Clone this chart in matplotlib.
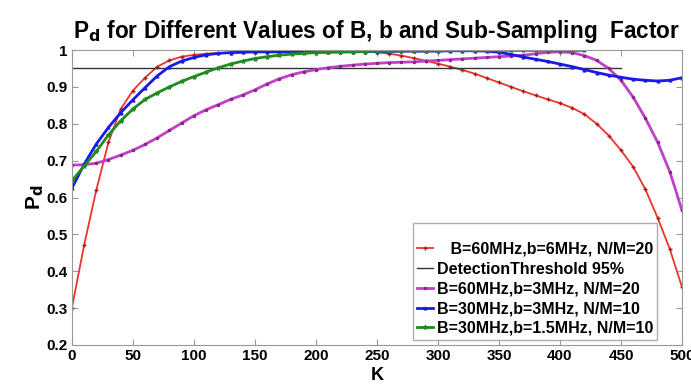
import numpy as np
import matplotlib
matplotlib.use("Agg")
import matplotlib.pyplot as plt

plt.rcParams['font.family'] = ['Liberation Sans', 'DejaVu Sans']
plt.rcParams['font.weight'] = 'bold'

# sampling grid of K (every 10)
K = np.arange(0, 501, 10)

pd_60_6 = [0.300, 0.470, 0.620, 0.750, 0.840, 0.890, 0.925, 0.955, 0.972, 0.982,
           0.987, 0.990, 0.992, 0.993, 0.994, 0.995, 0.996, 0.996, 0.997, 0.997,
           0.997, 0.997, 0.997, 0.997, 0.996, 0.994, 0.990, 0.985, 0.978, 0.971,
           0.963, 0.955, 0.946, 0.936, 0.924, 0.912, 0.900, 0.888, 0.877, 0.866,
           0.856, 0.843, 0.826, 0.800, 0.768, 0.728, 0.683, 0.622, 0.545, 0.460,
           0.357]

pd_60_3 = [0.688, 0.689, 0.693, 0.703, 0.715, 0.728, 0.744, 0.762, 0.782, 0.802,
           0.822, 0.838, 0.852, 0.866, 0.878, 0.892, 0.908, 0.922, 0.933, 0.941,
           0.947, 0.952, 0.956, 0.959, 0.962, 0.964, 0.966, 0.967, 0.968, 0.970,
           0.972, 0.974, 0.976, 0.978, 0.980, 0.982, 0.984, 0.986, 0.990, 0.994,
           0.995, 0.993, 0.985, 0.972, 0.950, 0.918, 0.872, 0.815, 0.750, 0.670,
           0.565]

pd_30_3 = [0.625, 0.690, 0.745, 0.790, 0.830, 0.865, 0.898, 0.930, 0.955, 0.970,
           0.980, 0.987, 0.991, 0.993, 0.994, 0.995, 0.995, 0.995, 0.995, 0.995,
           0.995, 0.995, 0.995, 0.995, 0.996, 0.996, 0.996, 0.997, 0.997, 0.997,
           0.997, 0.998, 0.998, 0.998, 0.997, 0.994, 0.988, 0.981, 0.975, 0.969,
           0.962, 0.955, 0.947, 0.939, 0.932, 0.926, 0.921, 0.918, 0.916, 0.918,
           0.925]

# this one stops at K=420
pd_30_15 = [0.645, 0.685, 0.725, 0.770, 0.808, 0.840, 0.866, 0.884, 0.900, 0.915,
            0.928, 0.940, 0.952, 0.962, 0.970, 0.977, 0.982, 0.986, 0.989, 0.991,
            0.993, 0.994, 0.995, 0.996, 0.996, 0.997, 0.997, 0.998, 0.998, 0.998,
            0.998, 0.999, 0.999, 0.999, 0.999, 0.999, 0.999, 0.999, 0.999, 0.999,
            0.999, 0.999, 0.999]

thr_K = [0, 450]
thr_val = [0.95, 0.95]

fig = plt.figure(figsize=(6.91, 3.85), dpi=100)
ax = fig.add_axes([0.104, 0.104, 0.883, 0.766])

ax.plot(K, pd_60_6, color='#e8362c', linewidth=1.3, marker='+', markersize=3,
        markeredgecolor='#b01818', label='   B=60MHz,b=6MHz, N/M=20')
ax.plot(thr_K, thr_val, color='#333333', linewidth=1.0, label='DetectionThreshold 95%')
ax.plot(K, pd_60_3, color='#c040c8', linewidth=2.0, marker='.', markersize=3,
        markeredgecolor='#8a208a', label='B=60MHz,b=3MHz, N/M=20')
ax.plot(K, pd_30_3, color='#1a1ae6', linewidth=2.0, marker='^', markersize=2,
        label='B=30MHz,b=3MHz, N/M=10')
ax.plot(K[:len(pd_30_15)], pd_30_15, color='#1e8c1e', linewidth=2.0, marker='*',
        markersize=3, label='B=30MHz,b=1.5MHz, N/M=10')

ax.set_xlim(0, 500)
ax.set_ylim(0.2, 1.0)
ax.set_xticks(np.arange(0, 501, 50))
ax.set_yticks([0.2, 0.3, 0.4, 0.5, 0.6, 0.7, 0.8, 0.9, 1.0])
ax.set_yticklabels(['0.2', '0.3', '0.4', '0.5', '0.6', '0.7', '0.8', '0.9', '1'])
ax.tick_params(direction='in', top=True, right=True, length=4, color='#999999',
               labelsize=11, pad=3)
for s in ax.spines.values():
    s.set_color('#999999')

ax.set_title('P$_\\mathbf{d}$ for Different Values of B, b and Sub-Sampling  Factor',
             fontsize=16.3, fontweight='bold', pad=9)
ax.set_xlabel('K', fontsize=13, fontweight='bold', labelpad=3)
ax.set_ylabel('P$_\\mathbf{d}$', fontsize=15, fontweight='bold', labelpad=0)

leg = ax.legend(loc='lower right', bbox_to_anchor=(0.959, 0.017), fontsize=11.5,
                handlelength=1.0, handletextpad=0.2, labelspacing=0.3,
                borderpad=0.25, borderaxespad=0, frameon=True, fancybox=False,
                title=' ', title_fontsize=8)
leg.get_frame().set_edgecolor('#999999')
leg.get_frame().set_linewidth(1.0)

fig.savefig('out.png', dpi=100)
